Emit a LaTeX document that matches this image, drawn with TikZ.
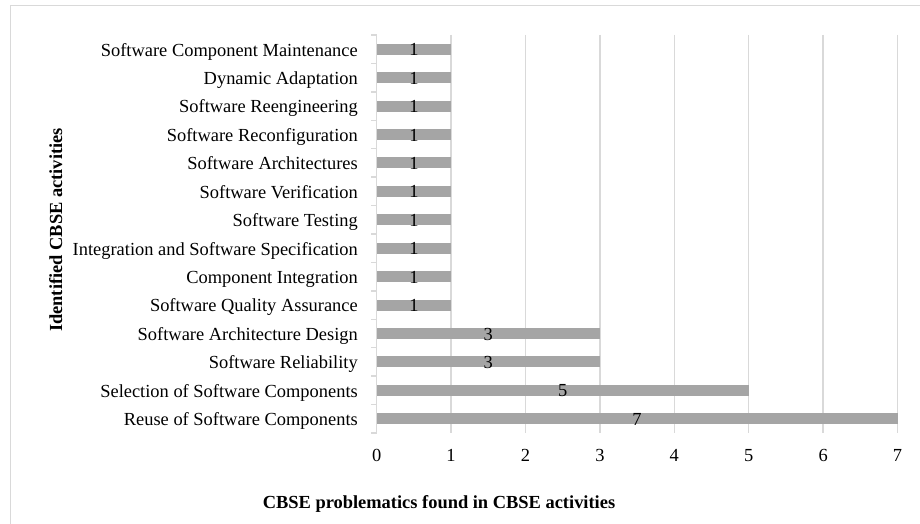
\documentclass[tikz,border=0pt]{standalone}
\usepackage{fontspec}
\setmainfont{Liberation Serif}
\definecolor{gridgray}{HTML}{D9D9D9}
\definecolor{bargray}{HTML}{A5A5A5}
\begin{document}
\begin{tikzpicture}[x=1bp,y=1bp,
  gridline/.style={draw=gridgray,line width=1.5bp},
  frameline/.style={draw=gridgray,line width=1bp},
  barbox/.style={fill=bargray,draw=none,inner sep=0pt,minimum height=11bp,anchor=west},
  catlabel/.style={anchor=base east,inner sep=0pt,font=\fontsize{18.5}{22}\selectfont},
  vallabel/.style={anchor=base,inner sep=0pt,font=\fontsize{18.5}{22}\selectfont},
  ticklabel/.style={anchor=base,inner sep=0pt,font=\fontsize{18.5}{22}\selectfont},
  axtitle/.style={inner sep=0pt,font=\fontsize{18.5}{22}\selectfont\bfseries}]
\useasboundingbox (0,0) rectangle (920,-524);
% outer chart frame (only top and left visible)
\coordinate (fbl) at (10,-524);
\coordinate (ftl) at (10,-6);
\coordinate (ftr) at (920,-6);
\draw[frameline] (fbl) -- (ftl) -- (ftr);
% gridlines and x tick labels
\foreach \k in {0,...,7} {
  \coordinate (gt\k) at ({376.7+74.4*\k},-35);
  \coordinate (gb\k) at ({376.7+74.4*\k},-433);
  \draw[gridline] (gt\k) -- (gb\k);
  \node[ticklabel] (xt\k) at ({376.7+74.4*\k},-461.5) {\k};
}
% category tick marks on the vertical axis
\foreach \k in {0,...,14} {
  \coordinate (ta\k) at (371.2,{-35-28.43*\k});
  \coordinate (tb\k) at (376.7,{-35-28.43*\k});
  \draw[gridline] (ta\k) -- (tb\k);
}
% bars, values and category labels
\foreach \i/\lab/\v in {
  1/Software Component Maintenance/1,
  2/Dynamic Adaptation/1,
  3/Software Reengineering/1,
  4/Software Reconfiguration/1,
  5/Software Architectures/1,
  6/Software Verification/1,
  7/Software Testing/1,
  8/Integration and Software Specification/1,
  9/Component Integration/1,
  10/Software Quality Assurance/1,
  11/Software Architecture Design/3,
  12/Software Reliability/3,
  13/Selection of Software Components/5,
  14/Reuse of Software Components/7} {
  \pgfmathsetmacro{\yc}{35+28.43*(\i-0.5)}
  \node[barbox,minimum width={74.4*\v*1bp}] (bar\i) at (376.7,-\yc) {};
  \node[vallabel] (val\i) at ({376.7+37.2*\v},{-\yc-6.5}) {\v};
  \node[catlabel] (cat\i) at (358,{-\yc-6.8}) {\lab};
}
% axis titles
\node[axtitle,anchor=base] (xtitle) at (439,-508) {CBSE problematics found in CBSE activities};
\node[axtitle,anchor=base,rotate=90] (ytitle) at (62,-230) {Identified CBSE activities};
\end{tikzpicture}
\end{document}
